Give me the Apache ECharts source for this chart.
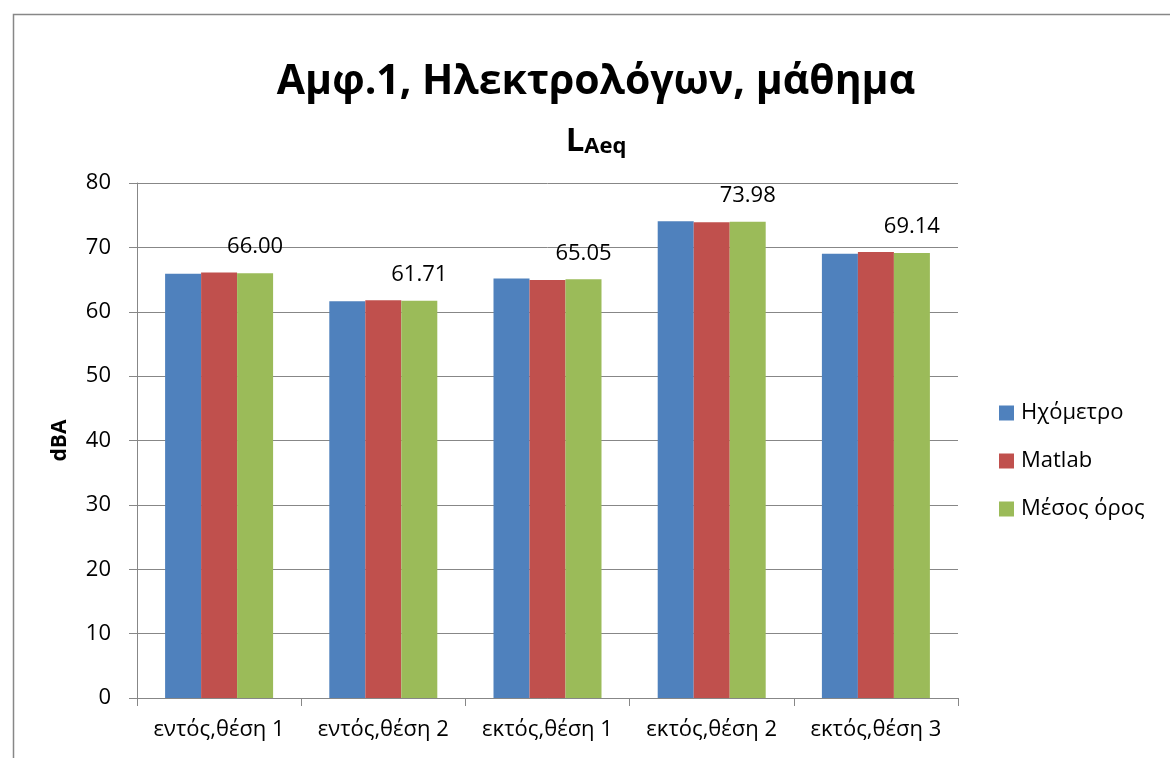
<!DOCTYPE html>
<html>
<head>
<meta charset="utf-8">
<script src="https://cdn.jsdelivr.net/npm/echarts@6/dist/echarts.min.js"></script>
<style>
html,body{margin:0;padding:0;background:#fff;}
#c{width:1170px;height:758px;}
</style>
</head>
<body>
<div id="c"></div>
<script>
const categories = ['εντός,θέση 1','εντός,θέση 2','εκτός,θέση 1','εκτός,θέση 2','εκτός,θέση 3'];
const seriesNames = ['Ηχόμετρο','Matlab','Μέσος όρος'];
const meterValues = [65.90, 61.65, 65.15, 74.05, 69.00];
const matlabValues = [66.10, 61.77, 64.95, 73.91, 69.28];
const meanValues = [66.00, 61.71, 65.05, 73.98, 69.14];
const yTicks = [0, 10, 20, 30, 40, 50, 60, 70, 80];

const FONT = 'Open Sans';
const GRAY = '#878787';
const chart = echarts.init(document.getElementById('c'));
chart.setOption({
  backgroundColor: '#ffffff',
  animation: false,
  textStyle: { fontFamily: FONT },
  graphic: [{
    type: 'rect', left: 11, top: 12, silent: true,
    shape: { x: 0, y: 0, width: 1300, height: 900 },
    style: { fill: 'none', stroke: GRAY, lineWidth: 1.5 }
  }],
  title: [{
    text: 'Αμφ.1, Ηλεκτρολόγων, μάθημα',
    left: 591, top: 57, textAlign: 'center',
    textStyle: { fontFamily: FONT, fontWeight: 'bold', fontSize: 41, color: '#000' }
  }, {
    text: '{l|L}{s|Aeq}',
    left: 591, top: 117, textAlign: 'center',
    textStyle: {
      rich: {
        l: { fontFamily: FONT, fontWeight: 'bold', fontSize: 33, color: '#000', verticalAlign: 'bottom', lineHeight: 36 },
        s: { fontFamily: FONT, fontWeight: 'bold', fontSize: 22, color: '#000', verticalAlign: 'bottom', lineHeight: 29 }
      }
    }
  }],
  legend: {
    orient: 'vertical', left: 994, top: 397,
    itemWidth: 15, itemHeight: 15, itemGap: 26,
    icon: 'rect',
    data: seriesNames,
    textStyle: { fontFamily: FONT, fontSize: 22, color: '#000', lineHeight: 22, padding: [0, 0, 0, 2] }
  },
  grid: { left: 137, right: 212, top: 183, bottom: 60, containLabel: false },
  xAxis: {
    type: 'category', data: categories,
    axisLine: { lineStyle: { color: GRAY, width: 1 } },
    axisTick: { show: true, length: 8, lineStyle: { color: GRAY } },
    axisLabel: { fontFamily: FONT, fontSize: 22, color: '#000', margin: 21, interval: 0, hideOverlap: false }
  },
  yAxis: {
    type: 'value', min: yTicks[0], max: yTicks[yTicks.length - 1], interval: 10,
    name: 'dBA', nameLocation: 'middle', nameGap: 66, nameRotate: 90,
    nameTextStyle: { fontFamily: FONT, fontWeight: 'bold', fontSize: 21, color: '#000' },
    axisLine: { show: true, lineStyle: { color: GRAY, width: 1 } },
    axisTick: { show: true, length: 8, lineStyle: { color: GRAY } },
    splitLine: { lineStyle: { color: GRAY, width: 1 } },
    axisLabel: { fontFamily: FONT, fontSize: 22, color: '#000', margin: 26 }
  },
  series: [{
    name: seriesNames[0], type: 'bar', data: meterValues, barWidth: 36, barGap: '0%',
    itemStyle: { color: '#4F81BD' }
  }, {
    name: seriesNames[1], type: 'bar', data: matlabValues, barWidth: 36, barGap: '0%',
    itemStyle: { color: '#C0504D' }
  }, {
    name: seriesNames[2], type: 'bar', data: meanValues, barWidth: 36, barGap: '0%',
    itemStyle: { color: '#9BBB59' },
    label: {
      show: true, position: 'top', distance: 15,
      fontFamily: FONT, fontSize: 22, color: '#000',
      formatter: p => p.value.toFixed(2)
    }
  }]
});
</script>
</body>
</html>
